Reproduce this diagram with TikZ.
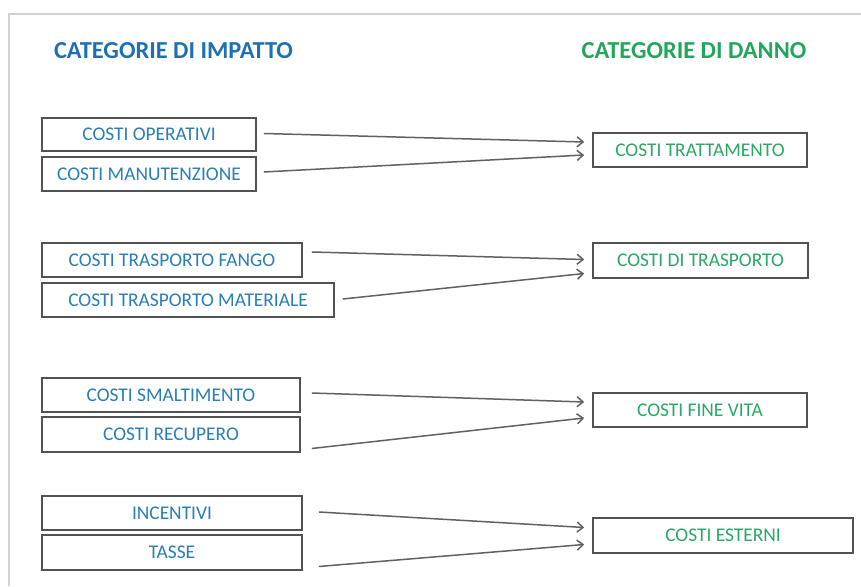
\documentclass[tikz,border=0pt]{standalone}
\usepackage{fontspec}
\setmainfont{Carlito}
\usepackage{xcolor}
\usetikzlibrary{arrows.meta}
\definecolor{impblue}{RGB}{31,112,178}
\definecolor{dangreen}{RGB}{34,166,92}
\definecolor{boxblue}{RGB}{40,126,184}
\definecolor{boxgreen}{RGB}{40,168,100}

\tikzset{
  costbox/.style={draw=black!68, line width=1.6pt, fill=white, inner sep=0pt,
    font=\fontsize{19.4}{21}\selectfont},
  impbox/.style={costbox, text=boxblue},
  danbox/.style={costbox, text=boxgreen},
  title/.style={inner sep=0pt, font=\bfseries\fontsize{24.4}{26}\selectfont},
  conn/.style={draw=black!62, line width=1.5pt, -{Straight Barb[length=6pt,width=10pt]}},
}

\begin{document}
\begin{tikzpicture}[x=1pt,y=1pt]
\useasboundingbox (0,0) rectangle (861,586);

% slide frame
\draw[black!18, line width=2pt] (9,0) -- (9,572) -- (861,572);

\node[title, text=impblue] (titimp) at (173.5,535.5) {CATEGORIE DI IMPATTO};
\node[title, text=dangreen] (titdan) at (694,535.5) {CATEGORIE DI DANNO};

%%%%%%%%%% trattamento
\node[impbox, minimum width=214pt, minimum height=33pt] (op) at (149,451.5) {COSTI OPERATIVI};
\node[impbox, minimum width=214pt, minimum height=34pt] (man) at (149,412) {COSTI MANUTENZIONE};
\node[danbox, minimum width=214pt, minimum height=34pt] (tratt) at (700,436) {COSTI TRATTAMENTO};
\draw[conn] ([shift={(7,1)}]op.east) -- ([shift={(-8,8)}]tratt.west);
\draw[conn] ([shift={(7,2)}]man.east) -- ([shift={(-8,-5)}]tratt.west);

%%%%%%%%%% trasporto
\node[impbox, minimum width=260pt, minimum height=34pt] (fango) at (172,326) {COSTI TRASPORTO FANGO};
\node[impbox, minimum width=292pt, minimum height=34pt] (mat) at (188,286) {COSTI TRASPORTO MATERIALE};
\node[danbox, minimum width=215pt, minimum height=35pt] (trasp) at (700.5,325.5) {COSTI DI TRASPORTO};
\draw[conn] ([shift={(9,8)}]fango.east) -- ([shift={(-8,1)}]trasp.west);
\draw[conn] ([shift={(8,1)}]mat.east) -- ([shift={(-8,-13)}]trasp.west);

%%%%%%%%%% fine vita
\node[impbox, minimum width=258pt, minimum height=34pt] (smalt) at (171,191) {COSTI SMALTIMENTO};
\node[impbox, minimum width=258pt, minimum height=35pt] (recup) at (171,151.5) {COSTI RECUPERO};
\node[danbox, minimum width=214pt, minimum height=34pt] (fine) at (700,176) {COSTI FINE VITA};
\draw[conn] ([shift={(11,2)}]smalt.east) -- ([shift={(-8,8)}]fine.west);
\draw[conn] ([shift={(11,-14)}]recup.east) -- ([shift={(-8,-8)}]fine.west);

%%%%%%%%%% esterni
\node[impbox, minimum width=260pt, minimum height=34pt] (inc) at (172,73) {INCENTIVI};
\node[impbox, minimum width=260pt, minimum height=35pt] (tasse) at (172,33.5) {TASSE};
\node[danbox, minimum width=260pt, minimum height=35pt] (est) at (723,50.5) {COSTI ESTERNI};
\draw[conn] ([shift={(16,1)}]inc.east) -- ([shift={(-8,8)}]est.west);
\draw[conn] ([shift={(16,-14)}]tasse.east) -- ([shift={(-8,-9)}]est.west);

\end{tikzpicture}
\end{document}
